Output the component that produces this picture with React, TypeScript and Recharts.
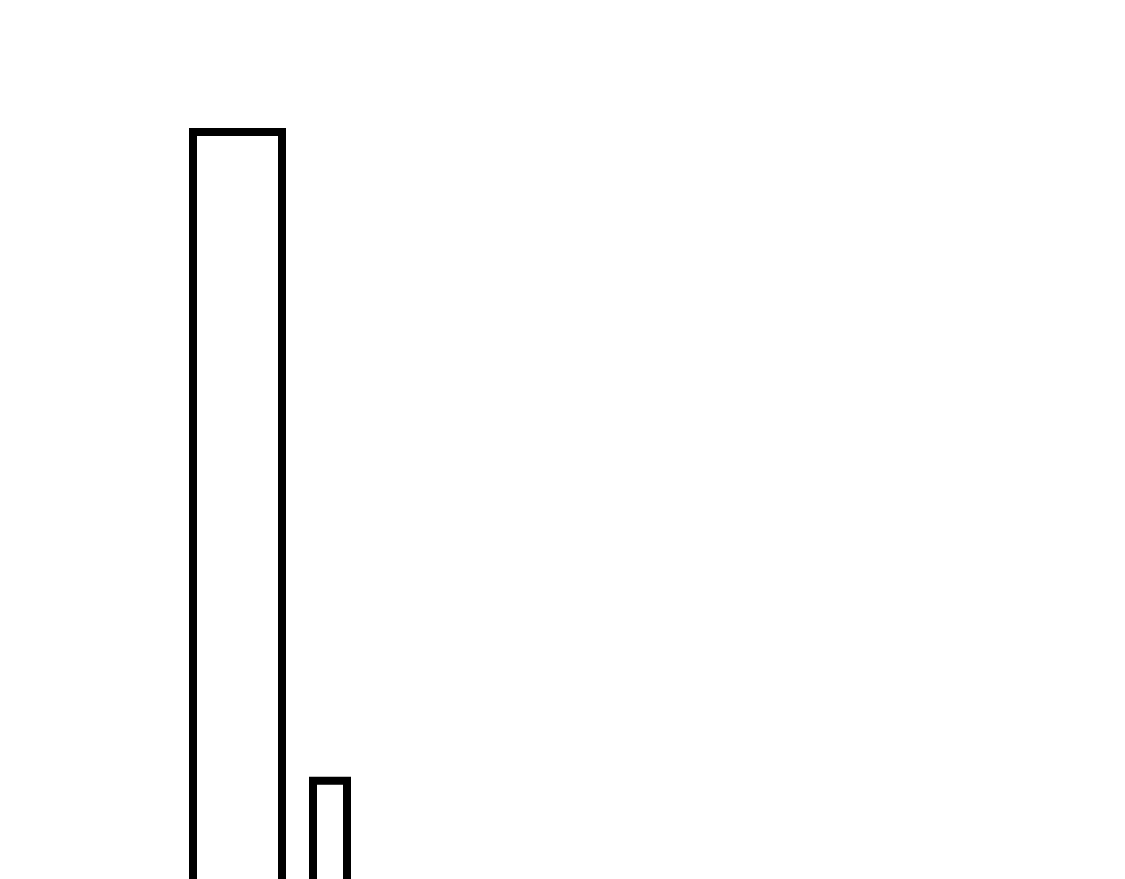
import { BarChart, Bar, XAxis, YAxis } from "recharts";

const categories = ["A"];
const tallValues = [100];
const shortValues = [20];

const data = categories.map((name, i) => ({
  name,
  tall: tallValues[i],
  short: shortValues[i],
}));

export default function App() {
  // chart runs past the bottom of the window, bars are cut off there
  return (
    <div style={{ position: "fixed", left: 8, top: 8, width: 523, height: 871, overflow: "hidden" }}>
      <BarChart
        width={523}
        height={935}
        data={data}
        barGap={31}
        margin={{ top: 124, right: 0, left: 0, bottom: 0 }}
      >
        <XAxis dataKey="name" hide />
        <YAxis hide domain={[0, 100]} />
        <Bar
          dataKey="tall"
          barSize={89}
          fill="none"
          stroke="#000"
          strokeWidth={8}
          isAnimationActive={false}
        />
        <Bar
          dataKey="short"
          barSize={34}
          fill="none"
          stroke="#000"
          strokeWidth={8}
          isAnimationActive={false}
        />
      </BarChart>
    </div>
  );
}
